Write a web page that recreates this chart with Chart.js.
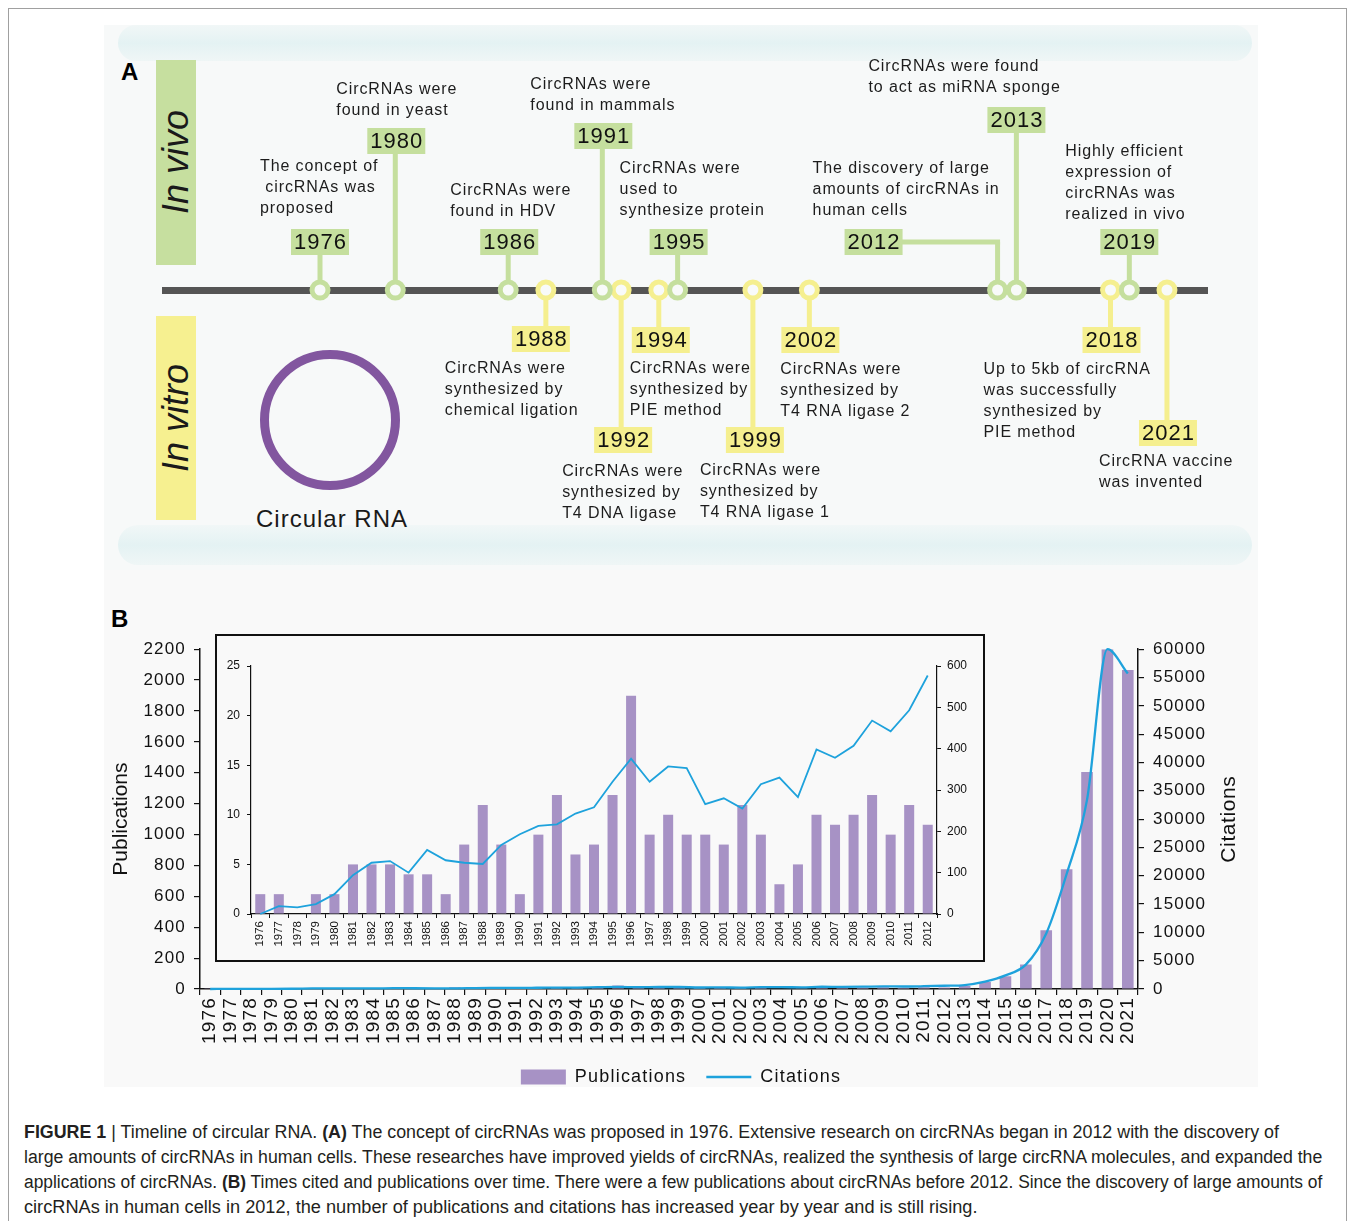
<!DOCTYPE html>
<html>
<head>
<meta charset="utf-8">
<script src="https://cdn.jsdelivr.net/npm/chart.js@4.4.1/dist/chart.umd.min.js"></script>
<style>
  html, body { margin: 0; padding: 0; background: #fff; }
  body { width: 1354px; height: 1221px; position: relative; overflow: hidden; font-family: "Liberation Sans", Arial, sans-serif; color: #1a1a1a; }
  .abs { position: absolute; }
  #frame { left: 8px; top: 8px; width: 1337px; height: 1240px; border: 1px solid #a0a0a0; }
  #panelA { left: 104px; top: 25px; width: 1154px; height: 545px; background: #f7f9f9; overflow: hidden; }
  .band { position: absolute; left: 14px; width: 1134px; border-radius: 20px; background: linear-gradient(#f1f7f7, #e4f2f3 50%, #eff6f6); }
  #panelB { left: 104px; top: 570px; width: 1154px; height: 517px; background: #f9f9f9; }
  .letter { font-weight: bold; font-size: 24px; line-height: 24px; color: #000; }
  .side { width: 40px; display: flex; align-items: center; justify-content: center; }
  .side span { writing-mode: vertical-rl; transform: rotate(180deg); font-style: italic; font-size: 36px; line-height: 40px; color: #1a1a1a; }
  #ring { left: 260px; top: 350px; width: 140px; height: 140px; box-sizing: border-box; border: 9px solid #82569f; border-radius: 50%; }
  #ringLabel { left: 232px; top: 507px; width: 200px; text-align: center; font-size: 24px; line-height: 24px; letter-spacing: 1px; }
  #insetBox { left: 215px; top: 634px; width: 770px; height: 328px; box-sizing: border-box; border: 2px solid #111; pointer-events: none; }
  .cl { position: absolute; left: 0; white-space: nowrap; transform-origin: left center; font-family: "Liberation Sans Narrow", "Liberation Sans", Arial, sans-serif; font-size: 18px; line-height: 24px; color: #231f20; }
</style>
</head>
<body>
<div id="frame" class="abs"></div>

<div id="panelA" class="abs">
  <div class="band" style="top:0px;height:36px;"></div>
  <div class="band" style="top:500px;height:40px;"></div>
</div>
<div id="panelB" class="abs"></div>
<div class="abs letter" style="left:121px;top:60px;">A</div>
<div class="abs side" style="left:156px;top:60px;height:205px;background:#c6df9f;"><span>In vivo</span></div>
<div class="abs side" style="left:156px;top:316px;height:204px;background:#f6f090;"><span>In vitro</span></div>
<div id="ring" class="abs"></div>
<div id="ringLabel" class="abs">Circular RNA</div>
<canvas id="timeline" class="abs" style="left:104px;top:25px;" width="1154" height="545"></canvas>

<div class="abs letter" style="left:111px;top:607px;">B</div>
<canvas id="mainChart" class="abs" style="left:104px;top:630px;" width="1154" height="466"></canvas>
<canvas id="insetChart" class="abs" style="left:215px;top:634px;background:#f9f9f9;" width="770" height="328"></canvas>
<div id="insetBox" class="abs"></div>

<div id="caption" class="abs" style="left:24px;top:1120px;">
  <div class="cl" style="top:0px;" data-w="1255"><b>FIGURE 1</b> | Timeline of circular RNA. <b>(A)</b> The concept of circRNAs was proposed in 1976. Extensive research on circRNAs began in 2012 with the discovery of</div>
  <div class="cl" style="top:25px;" data-w="1298">large amounts of circRNAs in human cells. These researches have improved yields of circRNAs, realized the synthesis of large circRNA molecules, and expanded the</div>
  <div class="cl" style="top:50px;" data-w="1298">applications of circRNAs. <b>(B)</b> Times cited and publications over time. There were a few publications about circRNAs before 2012. Since the discovery of large amounts of</div>
  <div class="cl" style="top:75px;" data-w="953">circRNAs in human cells in 2012, the number of publications and citations has increased year by year and is still rising.</div>
</div>

<script>
// ---- Panel A: timeline events ----
const vivoYears = [1976, 1980, 1986, 1991, 1995, 2012, 2013, 2019];
const vivoTexts = [
    ['The concept of', ' circRNAs was', 'proposed'],
    ['CircRNAs were', 'found in yeast'],
    ['CircRNAs were', 'found in HDV'],
    ['CircRNAs were', 'found in mammals'],
    ['CircRNAs were', 'used to', 'synthesize protein'],
    ['The discovery of large', 'amounts of circRNAs in', 'human cells'],
    ['CircRNAs were found', 'to act as miRNA sponge'],
    ['Highly efficient', 'expression of', 'circRNAs was', 'realized in vivo']
];
const vitroYears = [1988, 1992, 1994, 1999, 2002, 2018, 2021];
const vitroTexts = [
    ['CircRNAs were', 'synthesized by', 'chemical ligation'],
    ['CircRNAs were', 'synthesized by', 'T4 DNA ligase'],
    ['CircRNAs were', 'synthesized by', 'PIE method'],
    ['CircRNAs were', 'synthesized by', 'T4 RNA ligase 1'],
    ['CircRNAs were', 'synthesized by', 'T4 RNA ligase 2'],
    ['Up to 5kb of circRNA', 'was successfully', 'synthesized by', 'PIE method'],
    ['CircRNA vaccine', 'was invented']
];
// label placement (box level / text level in y units above the line, offsets in px)
const vivoLayout = [
    {box: 48, boxDx: 0, textDx: -60, text: 123},
    {box: 149, boxDx: 1, textDx: -59, text: 200},
    {box: 48, boxDx: 1, textDx: -58, text: 99},
    {box: 154, boxDx: 1, textDx: -72, text: 205},
    {box: 48, boxDx: 1, textDx: -58, text: 121},
    {box: 48, boxDx: -124, textDx: -185, text: 121},
    {box: 170, boxDx: 0, textDx: -148, text: 223},
    {box: 48, boxDx: 0, textDx: -64, text: 138}
];
const vitroLayout = [
    {box: -49, boxDx: -5, textDx: -101, text: -79},
    {box: -150, boxDx: 2, textDx: -59, text: -182},
    {box: -50, boxDx: 2, textDx: -29, text: -79},
    {box: -150, boxDx: 2, textDx: -53, text: -181},
    {box: -50, boxDx: 1, textDx: -29, text: -80},
    {box: -50, boxDx: 1, textDx: -127, text: -80},
    {box: -143, boxDx: 1, textDx: -68, text: -172}
];

// ---- Panel B: publications and citations ----
const years = ['1976','1977','1978','1979','1980','1981','1982','1983','1984','1985',
    '1986','1987','1988','1989','1990','1991','1992','1993','1994','1995',
    '1996','1997','1998','1999','2000','2001','2002','2003','2004','2005',
    '2006','2007','2008','2009','2010','2011','2012','2013','2014','2015',
    '2016','2017','2018','2019','2020','2021'];
const publications = [2, 2, 0, 2, 2, 5, 5, 5, 4, 4,
    2, 7, 11, 7, 2, 8, 12, 6, 7, 12,
    22, 8, 10, 8, 8, 7, 11, 8, 3, 5,
    10, 9, 10, 12, 8, 11, 9, 20, 45, 82,
    158, 380, 775, 1405, 2200, 2065];
const citations = [0, 19, 16, 24, 48, 94, 124, 128, 100, 155,
    130, 124, 121, 167, 193, 213, 217, 243, 258, 320,
    376, 320, 357, 353, 266, 280, 255, 314, 330, 283,
    398, 378, 407, 468, 442, 493, 577, 700, 1300, 2400,
    4300, 9800, 20300, 33400, 60000, 55700];
const insetCount = 37; // inset zooms in on 1976-2012
const pubTicks = {min: 0, max: 2200, step: 200};
const citeTicks = {min: 0, max: 60000, step: 5000};
const insetPubTicks = {min: 0, max: 25, step: 5};
const insetCiteTicks = {min: 0, max: 600, step: 100};

const green = '#c5df9e';
const yellow = '#f5ef8f';
const barColor = '#a792c5';
const lineColor = '#1ea2dc';
const FONT = '"Liberation Sans", Arial, sans-serif';

Chart.defaults.font.family = FONT;
Chart.defaults.color = '#111';

const plainTick = v => String(v); // no thousands separators

// ---------- timeline ----------
const stemSets = [];
function addStems(yrs, layout, color) {
    yrs.forEach((yr, i) => {
        stemSets.push({
            data: [{x: yr, y: 0}, {x: yr, y: layout[i].box}],
            showLine: true,
            borderColor: color,
            borderWidth: 5,
            pointRadius: 0,
            clip: false,
            order: 2
        });
    });
}
addStems(vivoYears, vivoLayout, green);
addStems(vitroYears, vitroLayout, yellow);

const timelineLabels = {
    id: 'timelineLabels',
    afterDatasetsDraw(chart) {
        const {ctx, scales: {x, y}} = chart;
        const groups = [
            {yrs: vivoYears, texts: vivoTexts, layout: vivoLayout, color: green},
            {yrs: vitroYears, texts: vitroTexts, layout: vitroLayout, color: yellow}
        ];
        ctx.save();
        groups.forEach(g => g.yrs.forEach((yr, i) => {
            const L = g.layout[i];
            const px = x.getPixelForValue(yr);
            const by = y.getPixelForValue(L.box);
            const bx = px + L.boxDx;
            if (Math.abs(L.boxDx) > 10) {
                // elbow connector from the stem over to the label box
                ctx.strokeStyle = g.color;
                ctx.lineWidth = 5;
                ctx.beginPath();
                ctx.moveTo(px + 2.5, by);
                ctx.lineTo(bx, by);
                ctx.stroke();
            }
            ctx.fillStyle = g.color;
            ctx.fillRect(bx - 29, by - 13, 58, 26);
            ctx.fillStyle = '#111';
            ctx.font = '22px ' + FONT;
            ctx.letterSpacing = '1px';
            ctx.textAlign = 'center';
            ctx.textBaseline = 'middle';
            ctx.fillText(String(yr), bx + 0.5, by + 1);

            ctx.font = '16px ' + FONT;
            ctx.letterSpacing = '0.9px';
            ctx.textAlign = 'left';
            ctx.fillStyle = '#1c1c1c';
            const ty = y.getPixelForValue(L.text);
            g.texts[i].forEach((line, k) => ctx.fillText(line, px + L.textDx, ty + k * 20.7));
        }));
        ctx.restore();
    }
};

new Chart(document.getElementById('timeline'), {
    type: 'scatter',
    data: {
        datasets: [
            {
                data: vivoYears.map(v => ({x: v, y: 0})),
                pointRadius: 8,
                pointBorderWidth: 5,
                pointBorderColor: green,
                pointBackgroundColor: '#f8faf9',
                clip: false,
                order: 0
            },
            {
                data: vitroYears.map(v => ({x: v, y: 0})),
                pointRadius: 8,
                pointBorderWidth: 5,
                pointBorderColor: yellow,
                pointBackgroundColor: '#f8faf9',
                clip: false,
                order: 0
            }
        ].concat(stemSets)
    },
    options: {
        responsive: false,
        animation: false,
        events: [],
        layout: {autoPadding: false, padding: {left: 58, right: 50, top: 0, bottom: 0}},
        plugins: {legend: {display: false}, tooltip: {enabled: false}},
        scales: {
            x: {type: 'linear', min: 1967.605, max: 2023.18, display: false},
            y: {
                min: -280,
                max: 265,
                ticks: {display: false},
                border: {display: false},
                grid: {color: '#555', lineWidth: 7, drawTicks: false},
                afterBuildTicks: s => { s.ticks = [{value: 0}]; },
                afterFit: s => { s.width = 0; }
            }
        }
    },
    plugins: [timelineLabels]
});

// ---------- main chart ----------
const mainSpacing = {
    id: 'mainSpacing',
    beforeUpdate(chart) { chart.ctx.letterSpacing = '1.2px'; },
    beforeDraw(chart) { chart.ctx.letterSpacing = '1.2px'; },
    afterDraw(chart) {
        const {ctx, chartArea} = chart;
        const cy = (chartArea.top + chartArea.bottom) / 2;
        ctx.save();
        ctx.letterSpacing = '0px';
        ctx.fillStyle = '#111';
        ctx.font = '21px ' + FONT;
        ctx.textAlign = 'center';
        ctx.textBaseline = 'middle';
        ctx.translate(17.5, cy);
        ctx.rotate(-Math.PI / 2);
        ctx.fillText('Publications', 0, 0);
        ctx.restore();
        ctx.save();
        ctx.letterSpacing = '0.6px';
        ctx.fillStyle = '#111';
        ctx.font = '21px ' + FONT;
        ctx.textAlign = 'center';
        ctx.textBaseline = 'middle';
        ctx.translate(1125.5, cy);
        ctx.rotate(-Math.PI / 2);
        ctx.fillText('Citations', 0, 0);
        ctx.restore();
    }
};

new Chart(document.getElementById('mainChart'), {
    type: 'bar',
    data: {
        labels: years,
        datasets: [
            {
                type: 'bar',
                label: 'Publications',
                data: publications,
                backgroundColor: barColor,
                categoryPercentage: 1,
                barPercentage: 0.57,
                yAxisID: 'y',
                order: 1
            },
            {
                type: 'line',
                label: 'Citations',
                data: citations,
                borderColor: lineColor,
                borderWidth: 2.3,
                pointRadius: 0,
                cubicInterpolationMode: 'monotone',
                clip: false,
                yAxisID: 'y1',
                order: 0
            }
        ]
    },
    options: {
        responsive: false,
        animation: false,
        events: [],
        layout: {padding: {left: 0, right: 0, top: 17, bottom: 0}},
        plugins: {
            tooltip: {enabled: false},
            legend: {
                position: 'bottom',
                labels: {
                    usePointStyle: true,
                    pointStyleWidth: 45,
                    boxHeight: 15,
                    padding: 20,
                    color: '#111',
                    font: {size: 18},
                    sort: (a, b) => a.datasetIndex - b.datasetIndex,
                    generateLabels(chart) {
                        const items = Chart.defaults.plugins.legend.labels.generateLabels(chart);
                        items.forEach(it => {
                            const ds = chart.data.datasets[it.datasetIndex];
                            if (ds.type === 'line') {
                                it.pointStyle = 'line';
                                it.strokeStyle = lineColor;
                                it.lineWidth = 2.3;
                            } else {
                                it.pointStyle = 'rect';
                                it.fillStyle = barColor;
                                it.lineWidth = 0;
                            }
                        });
                        return items;
                    }
                }
            }
        },
        scales: {
            x: {
                grid: {drawOnChartArea: false, color: '#111', tickLength: 6, lineWidth: 1.2},
                border: {color: '#111', width: 1.5},
                ticks: {minRotation: 90, maxRotation: 90, autoSkip: false, padding: 2, font: {size: 19}},
                afterFit: s => { s.height = 59; }
            },
            y: {
                position: 'left',
                min: pubTicks.min,
                max: pubTicks.max,
                ticks: {stepSize: pubTicks.step, maxTicksLimit: 20, padding: 8, font: {size: 17}, callback: plainTick},
                grid: {drawOnChartArea: false, color: '#111', tickLength: 6, lineWidth: 1.2},
                border: {color: '#111', width: 1.5},
                afterFit: s => { s.width = 96; }
            },
            y1: {
                position: 'right',
                min: citeTicks.min,
                max: citeTicks.max,
                ticks: {stepSize: citeTicks.step, maxTicksLimit: 20, padding: 9, font: {size: 17}, callback: plainTick},
                grid: {drawOnChartArea: false, color: '#111', tickLength: 6, lineWidth: 1.2},
                border: {color: '#111', width: 1.5},
                afterFit: s => { s.width = 120; }
            }
        }
    },
    plugins: [mainSpacing]
});

// ---------- inset 1976-2012 ----------
new Chart(document.getElementById('insetChart'), {
    type: 'bar',
    data: {
        labels: years.slice(0, insetCount),
        datasets: [
            {
                type: 'bar',
                label: 'Publications',
                data: publications.slice(0, insetCount),
                backgroundColor: barColor,
                categoryPercentage: 1,
                barPercentage: 0.54,
                yAxisID: 'y',
                order: 1
            },
            {
                type: 'line',
                label: 'Citations',
                data: citations.slice(0, insetCount),
                borderColor: lineColor,
                borderWidth: 1.8,
                pointRadius: 0,
                tension: 0,
                clip: false,
                yAxisID: 'y1',
                order: 0
            }
        ]
    },
    options: {
        responsive: false,
        animation: false,
        events: [],
        layout: {padding: {left: 0, right: 0, top: 32, bottom: 0}},
        plugins: {legend: {display: false}, tooltip: {enabled: false}},
        scales: {
            x: {
                grid: {drawOnChartArea: false, color: '#111', tickLength: 4},
                border: {color: '#111', width: 1.2},
                ticks: {minRotation: 90, maxRotation: 90, autoSkip: false, padding: 3, font: {size: 11.5}},
                afterFit: s => { s.height = 48; }
            },
            y: {
                position: 'left',
                min: insetPubTicks.min,
                max: insetPubTicks.max,
                ticks: {stepSize: insetPubTicks.step, padding: 7, font: {size: 12}},
                grid: {drawOnChartArea: false, color: '#111', tickLength: 4},
                border: {color: '#111', width: 1.2},
                afterFit: s => { s.width = 36; }
            },
            y1: {
                position: 'right',
                min: insetCiteTicks.min,
                max: insetCiteTicks.max,
                ticks: {stepSize: insetCiteTicks.step, padding: 6, font: {size: 12}},
                grid: {drawOnChartArea: false, color: '#111', tickLength: 4},
                border: {color: '#111', width: 1.2},
                afterFit: s => { s.width = 48; }
            }
        }
    }
});

// stretch each caption line to the justified width of the original
document.querySelectorAll('.cl').forEach(el => {
    const target = parseFloat(el.dataset.w);
    const w = el.scrollWidth;
    el.style.transform = 'scaleX(' + (target / w) + ')';
});
</script>
</body>
</html>
